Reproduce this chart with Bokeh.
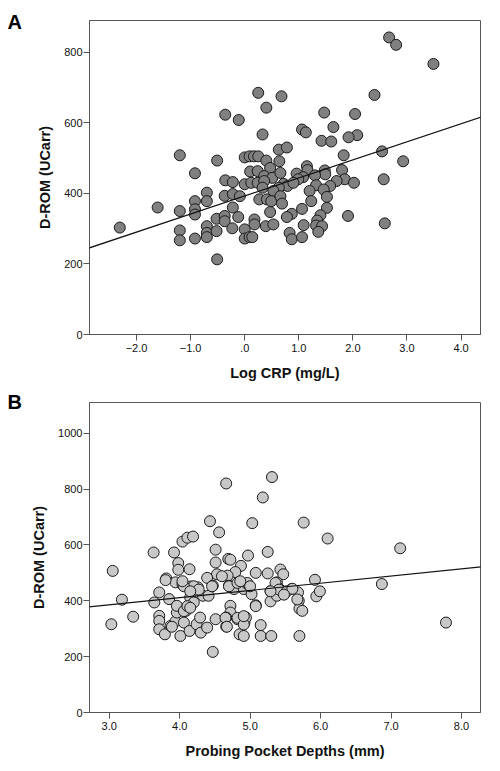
from bokeh.plotting import figure
from bokeh.layouts import column
from bokeh.models import Range1d, FixedTicker, Slope, Label, ColumnDataSource
from bokeh.embed import file_html
from bokeh.resources import INLINE

# ---------------- Panel A data: Log CRP vs D-ROM ----------------
a_crp = [2.67, 2.80, 3.49, 0.25, 0.68, 0.40, -0.36, -0.11, 2.40, 1.47, 2.04, 1.64, 1.06, 1.13,
         0.33, 2.08, 1.92, 1.42, 1.60, 0.63, 0.78, 2.54, -1.20, 1.83, -0.51, 2.93,
         0.00, 0.09, 0.17, 0.25, 0.40, 0.64,
         0.10, 0.47, 1.15, 1.16, 1.48, 1.49, 1.80, 2.57, -0.92, 0.24, 0.36, 0.51, 0.66, 0.96, 1.30, 1.08, 0.99,
         -0.36, -0.22, 0.00, 0.12, 0.24, 0.36, 0.72, 0.79, 0.90, 1.85, 2.02, 1.70, 1.58, 1.32, 1.46, 0.63,
         0.33, 0.53, 1.20, -0.70,
         -0.37, -0.22, -0.09, 0.27, 0.41, 0.49, 0.66, 0.69, 1.52, 1.23, 1.52, -0.92, -0.70, -0.22, 1.06,
         -1.61, -1.20, -0.92, -0.92,
         -0.52, -0.37, -0.37, -0.12, 0.18, 0.18, 0.47, 0.39, 0.53, 0.87, 0.78, 1.40, 1.34, 1.91,
         -2.31, -1.20, -0.70, -0.70, -0.52, -0.23, 0.00, 1.09, 1.32, 1.43, 1.36, 0.83, 2.59,
         -1.20, -0.92, -0.70, 0.00, 0.09, 0.14, 0.87, 1.06, -0.51]
a_drom = [842, 821, 767, 685, 675, 643, 623, 608, 679, 629, 625, 588, 581, 573,
          567, 565, 559, 549, 547, 524, 530, 519, 508, 508, 493, 491,
          502, 505, 505, 505, 493, 491,
          462, 472, 477, 466, 465, 454, 466, 440, 457, 463, 449, 444, 458, 456, 451, 446, 440,
          437, 432, 426, 430, 430, 435, 427, 421, 430, 440, 430, 435, 421, 423, 411, 416,
          416, 407, 407, 402,
          393, 398, 392, 383, 383, 378, 392, 371, 390, 378, 359, 378, 378, 360, 356,
          360, 350, 355, 340,
          328, 336, 321, 333, 326, 312, 347, 307, 312, 342, 333, 338, 323, 336,
          303, 295, 307, 288, 293, 301, 298, 310, 309, 307, 291, 288, 315,
          267, 272, 276, 272, 276, 276, 270, 276, 213]
a_fit = (51.2, 392.6)          # regression slope, intercept
a_xticks = [-2, -1, 0, 1, 2, 3, 4]
a_xlabels = ["\u22122.0", "\u22121.0", ".0", "1.0", "2.0", "3.0", "4.0"]
a_yticks = [0, 200, 400, 600, 800]

# ---------------- Panel B data: Probing pocket depth vs D-ROM ----------------
b_ppd = [3.05, 3.63, 3.92, 3.98, 3.98, 4.04, 4.11, 4.19, 4.14, 4.43, 4.56, 4.66, 4.51, 4.51, 4.69, 4.72,
         4.87, 4.97, 5.03, 5.18, 5.31, 5.25, 5.76, 6.10, 7.13, 5.43, 5.08, 5.25, 5.47, 4.79, 4.53,
         4.39, 3.81, 5.92,
         3.03, 3.18, 3.34, 3.64, 3.71, 3.71, 3.71, 3.71, 3.79, 3.85, 3.87, 3.94, 3.94, 3.96, 3.96,
         4.01, 4.04, 4.06, 4.09, 4.14, 4.16, 4.15, 4.20, 4.24, 4.26, 4.30, 4.29, 4.33, 4.41, 4.39,
         4.47, 4.47, 4.51, 4.68, 4.70, 4.72, 4.72, 4.66, 4.66, 4.77, 4.82, 4.85, 4.91, 4.92, 4.91,
         4.96, 4.94, 5.02, 5.08, 5.15, 5.15, 5.29, 5.29, 5.30, 5.38, 5.41, 5.38, 5.50, 5.59, 5.68,
         5.69, 5.70, 5.74, 5.70, 5.94, 5.99, 6.87, 7.78,
         4.60, 4.46, 4.70, 4.82, 4.20, 4.27, 4.06, 4.15, 4.06, 4.11, 4.15, 4.65, 4.67, 4.82, 4.91,
         3.89, 3.80, 4.04, 4.96, 5.00, 4.86, 5.36, 5.41, 5.29, 5.52, 5.60, 5.48, 5.67, 5.08, 4.91]
b_drom = [507, 573, 573, 535, 511, 612, 626, 630, 513, 685, 645, 820, 583, 537, 550, 547,
          525, 562, 678, 770, 843, 575, 680, 623, 588, 512, 500, 498, 495, 503, 495,
          482, 480, 475,
          316, 404, 343, 394, 430, 346, 328, 298, 280, 406, 310, 466, 326, 358, 382,
          274, 460, 322, 364, 292, 451, 412, 394, 316, 448, 286, 340, 418, 418, 304,
          454, 217, 334, 490, 454, 382, 358, 340, 308, 442, 334, 280, 274, 322, 442,
          460, 340, 424, 384, 313, 274, 434, 398, 274, 466, 444, 418, 432, 442, 430,
          400, 372, 364, 274, 416, 434, 460, 322,
          488, 452, 452, 464, 452, 440, 452, 434, 363, 381, 375, 339, 307, 339, 315,
          307, 474, 470, 464, 452, 470, 464, 440, 434, 434, 443, 422, 405, 381, 345]
b_fit = (25.7, 308.7)
b_xticks = [3, 4, 5, 6, 7, 8]
b_xlabels = ["3.0", "4.0", "5.0", "6.0", "7.0", "8.0"]
b_yticks = [0, 200, 400, 600, 800, 1000]

FONT = "Liberation Sans"
AXIS_COL = "#555555"


def make_panel(xs, ys, fit, xr, yr, xticks, xlabels, yticks, xtitle, fill, letter,
               height, borders, letter_pos):
    p = figure(width=500, height=height, output_backend="svg", toolbar_location=None,
               x_range=Range1d(*xr), y_range=Range1d(*yr),
               min_border_left=borders[0], min_border_right=borders[1],
               min_border_top=borders[2], min_border_bottom=borders[3])
    p.grid.visible = False
    p.outline_line_color = AXIS_COL
    p.outline_line_width = 1
    src = ColumnDataSource(dict(x=xs, y=ys))
    p.scatter("x", "y", source=src, size=11, fill_color=fill, line_color="#1a1a1a",
              line_width=1)
    p.add_layout(Slope(gradient=fit[0], y_intercept=fit[1], line_color="#111111",
                       line_width=1.2))
    p.xaxis.ticker = FixedTicker(ticks=xticks)
    p.xaxis.major_label_overrides = {t: l for t, l in zip(xticks, xlabels)}
    p.yaxis.ticker = FixedTicker(ticks=yticks)
    for ax in (p.xaxis[0], p.yaxis[0]):
        ax.minor_tick_line_color = None
        ax.major_tick_in = 0
        ax.major_tick_out = 6
        ax.axis_line_color = AXIS_COL
        ax.major_tick_line_color = AXIS_COL
        ax.major_label_text_font = FONT
        ax.major_label_text_font_size = "11px"
        ax.major_label_text_color = "#111111"
        ax.axis_label_text_font = FONT
        ax.axis_label_text_font_style = "bold"
        ax.axis_label_text_font_size = "14.5px"
        ax.axis_label_text_color = "#111111"
    p.xaxis.axis_label = xtitle
    p.yaxis.axis_label = "D-ROM (UCarr)"
    p.xaxis.major_label_standoff = 3
    p.yaxis.major_label_standoff = 1
    p.xaxis.axis_label_standoff = 10
    p.yaxis.axis_label_standoff = 8
    # panel letter, placed in the side panel so that it is not clipped to the frame
    p.add_layout(Label(x=letter_pos[0], y=letter_pos[1], x_units="canvas", y_units="canvas",
                       text=letter, text_font=FONT, text_font_style="bold",
                       text_font_size="20px", text_color="#000000",
                       text_baseline="alphabetic"), "left")
    return p


pa = make_panel(a_crp, a_drom, a_fit, (-2.87, 4.36), (0, 890), a_xticks, a_xlabels, a_yticks,
                "Log CRP (mg/L)", "#808080", "A", 385, (83, 13, 20, 51), (7, 21))
pb = make_panel(b_ppd, b_drom, b_fit, (2.72, 8.27), (0, 1110), b_xticks, b_xlabels, b_yticks,
                "Probing Pocket Depths (mm)", "#c8c8c8", "B", 386, (89, 20, 17, 59), (7, 16))

layout = column(pa, pb, spacing=0)
open("out.html", "w").write(file_html(layout, INLINE))
